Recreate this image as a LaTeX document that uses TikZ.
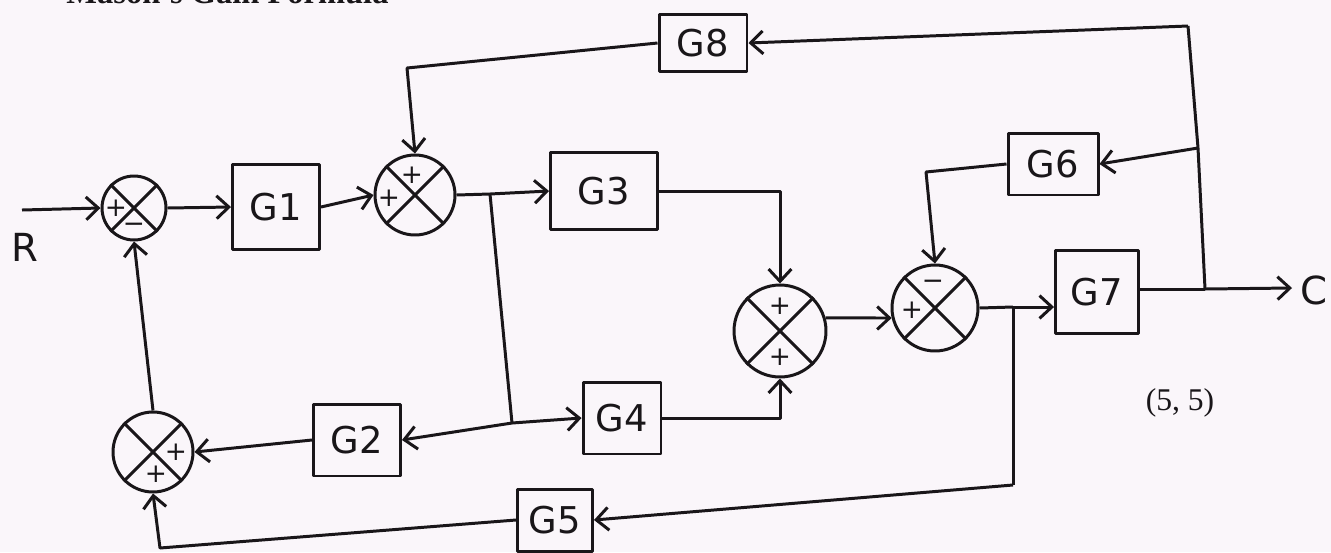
\documentclass[tikz,border=0pt]{standalone}
\usepackage{fontspec}
\setmainfont{Liberation Serif}
\newfontfamily\handfont{DejaVu Sans}
\usetikzlibrary{arrows.meta}
\definecolor{paper}{RGB}{250,246,250}
\definecolor{ink}{RGB}{25,22,25}
\begin{document}
\begin{tikzpicture}[x=0.02cm,y=-0.02cm,line width=1.7pt,line join=round,draw=ink,
  blk/.style={draw,inner sep=0pt,font=\handfont\fontsize{21}{24}\selectfont,text=ink},
  sumj/.style={draw,circle,inner sep=0pt,minimum size=#1},
  sgn/.style={font=\handfont\fontsize{15}{17}\selectfont,text=ink,inner sep=0pt},
  lbl/.style={font=\handfont\fontsize{22}{24}\selectfont,text=ink},
  arr/.style={-{Straight Barb[length=7pt,width=13pt]}}]
\useasboundingbox (0,0) rectangle (1331,552);
\fill[paper] (0,0) rectangle (1331,552);
% title (cut off at the top, as in the reference)
\node[anchor=base west,inner sep=0pt,font=\bfseries\fontsize{18.5}{20}\selectfont,text=ink] (title) at (65,3) {Mason's Gain Formula};
% blocks
\node[blk,minimum width=1.74cm,minimum height=1.70cm] (G1) at (276,207) {G1};
\node[blk,minimum width=1.74cm,minimum height=1.44cm] (G2) at (357,440) {G2};
\node[blk,minimum width=2.14cm,minimum height=1.54cm] (G3) at (604,191) {G3};
\node[blk,minimum width=1.56cm,minimum height=1.44cm] (G4) at (622,418) {G4};
\node[blk,minimum width=1.50cm,minimum height=1.24cm] (G5) at (555,520) {G5};
\node[blk,minimum width=1.80cm,minimum height=1.24cm] (G6) at (1053,164) {G6};
\node[blk,minimum width=1.66cm,minimum height=1.66cm] (G7) at (1097,292) {G7};
\node[blk,minimum width=1.76cm,minimum height=1.14cm] (G8) at (703,43) {G8};
% summing junctions
\node[sumj=1.28cm] (s1) at (134,208) {};
\node[sumj=1.60cm] (s2) at (415,195) {};
\node[sumj=1.84cm] (s3) at (780,331) {};
\node[sumj=1.60cm] (s4) at (153,452) {};
\node[sumj=1.72cm] (s5) at (935,308) {};
\foreach \s in {s1,s2,s3,s4,s5}{
  \draw (\s.north west) -- (\s.south east);
  \draw (\s.north east) -- (\s.south west);
}
% signs
\node[sgn] (p1a) at (116,208) {+};
\node[sgn] (p1b) at (134,228) {−};
\node[sgn] (p2a) at (412,175) {+};
\node[sgn] (p2b) at (389,198) {+};
\node[sgn] (p3a) at (780,306) {+};
\node[sgn] (p3b) at (780,357) {+};
\node[sgn] (p4a) at (176,452) {+};
\node[sgn] (p4b) at (156,474) {+};
\node[sgn] (p5a) at (933,285) {−};
\node[sgn] (p5b) at (912,310) {+};
% coordinates
\coordinate (rin) at (22,210);
\coordinate (b1) at (490,194);
\coordinate (b2) at (512,423);
\coordinate (b3) at (1013,307);
\coordinate (b4) at (1013,485);
\coordinate (c5) at (160,548);
\coordinate (b5) at (1205,289);
\coordinate (cout) at (1292,288);
\coordinate (b6) at (1198,148);
\coordinate (b7) at (1188,26);
\coordinate (c6) at (926,172);
\coordinate (c8) at (407,68);
% labels
\node[lbl] (R) at (25,247) {R};
\node[lbl] (C) at (1314,290) {C};
\node[font=\fontsize{18}{20}\selectfont,text=ink] (num) at (1180,403) {(5, 5)};
% connectors
\draw[arr] (rin) -- (s1.west);
\draw[arr] (s1.east) -- (G1.west);
\draw[arr] (G1.east) -- (s2.west);
\draw (s2.east) -- (b1);
\draw[arr] (b1) -- (G3.west);
\draw (b1) -- (b2);
\draw[arr] (b2) -- (G4.west);
\draw[arr] (b2) -- (G2.east);
\draw[arr] (G2.west) -- (s4.east);
\draw[arr] (s4.north) -- (s1.south);
\draw[arr] (G3.east) -| (s3.north);
\draw[arr] (G4.east) -| (s3.south);
\draw[arr] (s3.16) -- (s5.193);
\draw (s5.east) -- (b3);
\draw[arr] (b3) -- (G7.west |- b3);
\draw (b3) -- (b4);
\draw[arr] (b4) -- (G5.east);
\draw[arr] (G5.west) -- (c5) -- (s4.south);
\draw (G7.east |- b5) -- (b5);
\draw[arr] (b5) -- (cout);
\draw (b5) -- (b6) -- (b7);
\draw[arr] (b6) -- (G6.east);
\draw[arr] (b7) -- (G8.east);
\draw[arr] (G6.west) -- (c6) -- (s5.north);
\draw[arr] (G8.west) -- (c8) -- (s2.north);
\end{tikzpicture}
\end{document}
